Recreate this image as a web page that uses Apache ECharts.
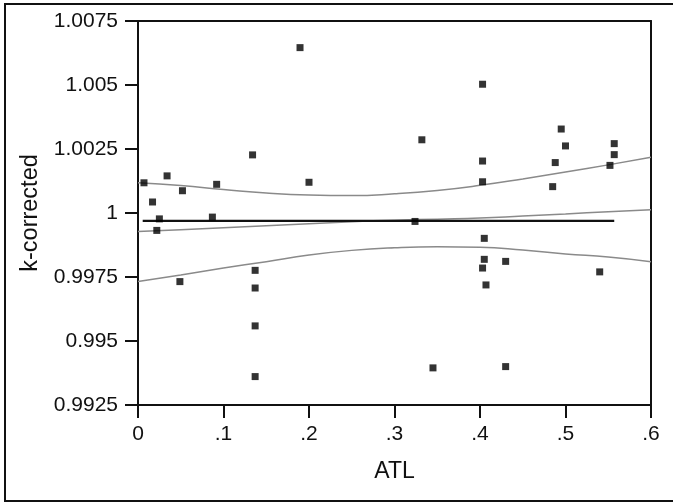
<!DOCTYPE html>
<html>
<head>
<meta charset="utf-8">
<script src="https://cdn.jsdelivr.net/npm/echarts@6/dist/echarts.min.js"></script>
<style>html,body{margin:0;padding:0;background:#fff}#c{width:673px;height:504px}</style>
</head>
<body>
<div id="c"></div>
<script>
var xTickLabels = ['0', '.1', '.2', '.3', '.4', '.5', '.6'];
var yTickLabels = ['0.9925', '0.995', '0.9975', '1', '1.0025', '1.005', '1.0075'];

var pointX = [0.007, 0.017, 0.022, 0.025, 0.034, 0.049, 0.052, 0.087, 0.092, 0.134,
  0.137, 0.137, 0.137, 0.137, 0.1895, 0.200, 0.324, 0.332, 0.345, 0.403,
  0.403, 0.403, 0.405, 0.405, 0.403, 0.407, 0.430, 0.430, 0.485, 0.488,
  0.495, 0.500, 0.540, 0.552, 0.557, 0.557];
var pointY = [1.00118, 1.00043, 0.99932, 0.99977, 1.00145, 0.99732, 1.00087, 0.99984, 1.00112, 1.00227,
  0.99776, 0.99707, 0.99559, 0.99361, 1.00646, 1.00120, 0.99967, 1.00286, 0.99395, 1.00503,
  1.00203, 1.00122, 0.99901, 0.99819, 0.99785, 0.99719, 0.99811, 0.99400, 1.00103, 1.00197,
  1.00328, 1.00262, 0.99770, 1.00186, 1.00228, 1.00271];

var fitX = [0.0055, 0.557];
var fitY = [0.99969, 0.99969];

var curveX = [0, 0.05, 0.1, 0.15, 0.2, 0.25, 0.3, 0.35, 0.4, 0.45, 0.5, 0.55, 0.6];
var upperY = [1.00118, 1.00107, 1.00092, 1.00078, 1.00070, 1.00068, 1.00075, 1.00088, 1.00108, 1.00133, 1.00160, 1.00188, 1.00218];
var middleY = [0.99928, 0.99935, 0.99942, 0.99950, 0.99958, 0.99966, 0.99972, 0.99976, 0.99980, 0.99988, 0.99996, 1.00005, 1.00013];
var lowerY = [0.99732, 0.99758, 0.99785, 0.99810, 0.99836, 0.99854, 0.99864, 0.99868, 0.99866, 0.99855, 0.99840, 0.99828, 0.99810];

var X_MIN = 0, X_MAX = 0.6, X_INT = 0.1;
var Y_MIN = 0.9925, Y_MAX = 1.0075, Y_INT = 0.0025;

function zip(a, b) { return a.map(function (v, i) { return [v, b[i]]; }); }

var chart = echarts.init(document.getElementById('c'), null, { renderer: 'canvas' });
var FONT = 'Liberation Sans, Arial, sans-serif';

var grayLine = { color: '#8a8a8a', width: 1.5 };
function curve(ys) {
  return {
    type: 'line', data: zip(curveX, ys), smooth: true, showSymbol: false, silent: true,
    lineStyle: grayLine, xAxisIndex: 0, yAxisIndex: 0, z: 2
  };
}

chart.setOption({
  animation: false,
  backgroundColor: '#fff',
  grid: { left: 138, right: 22, top: 21, bottom: 99, containLabel: false },
  graphic: [{
    type: 'polyline', silent: true,
    shape: { points: [[725, 4], [5, 4], [5, 501], [725, 501]] },
    style: { fill: 'none', stroke: '#111', lineWidth: 2 }
  }],
  xAxis: [{
    type: 'value', min: X_MIN, max: X_MAX, interval: X_INT,
    name: 'ATL', nameLocation: 'middle', nameGap: 55,
    nameTextStyle: { fontFamily: FONT, fontSize: 23, color: '#111' },
    axisLine: { show: true, onZero: false, lineStyle: { color: '#111', width: 2 } },
    axisTick: { show: true, inside: false, length: 13, lineStyle: { color: '#111', width: 2 } },
    axisLabel: {
      margin: 19, fontFamily: FONT, fontSize: 21, color: '#111',
      formatter: function (v) { return xTickLabels[Math.round((v - X_MIN) / X_INT)]; }
    },
    splitLine: { show: false }
  }, {
    type: 'value', position: 'top', min: X_MIN, max: X_MAX,
    axisLine: { show: true, onZero: false, lineStyle: { color: '#111', width: 2 } },
    axisTick: { show: false }, axisLabel: { show: false }, splitLine: { show: false }
  }],
  yAxis: [{
    type: 'value', min: Y_MIN, max: Y_MAX, interval: Y_INT,
    name: 'k-corrected', nameLocation: 'middle', nameGap: 86, nameRotate: 90,
    nameTextStyle: { fontFamily: FONT, fontSize: 23.5, color: '#111' },
    axisLine: { show: true, onZero: false, lineStyle: { color: '#111', width: 2 } },
    axisTick: { show: true, inside: false, length: 13, lineStyle: { color: '#111', width: 2 } },
    axisLabel: {
      margin: 20, fontFamily: FONT, fontSize: 21, color: '#111',
      formatter: function (v) { return yTickLabels[Math.round((v - Y_MIN) / Y_INT)]; }
    },
    splitLine: { show: false }
  }, {
    type: 'value', position: 'right', min: Y_MIN, max: Y_MAX,
    axisLine: { show: true, onZero: false, lineStyle: { color: '#111', width: 2 } },
    axisTick: { show: false }, axisLabel: { show: false }, splitLine: { show: false }
  }],
  series: [
    curve(upperY),
    curve(middleY),
    curve(lowerY),
    {
      type: 'line', data: zip(fitX, fitY), showSymbol: false, silent: true,
      lineStyle: { color: '#111', width: 2.2 }, z: 3
    },
    {
      type: 'scatter', data: zip(pointX, pointY), symbol: 'rect', symbolSize: 7,
      itemStyle: { color: '#000' }, z: 4
    }
  ]
});
</script>
</body>
</html>
